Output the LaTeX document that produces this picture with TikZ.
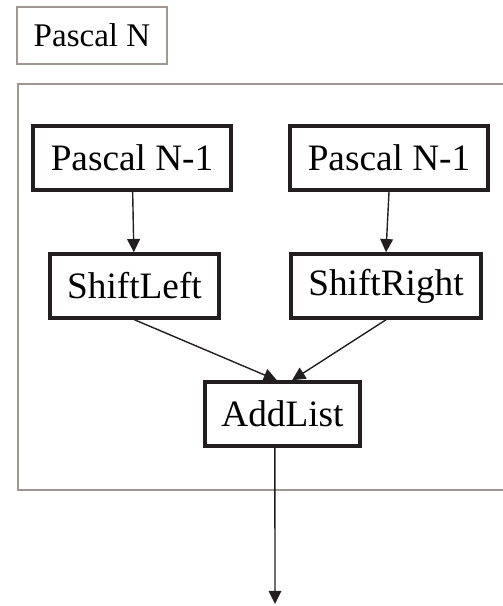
\documentclass[tikz,border=0pt]{standalone}
\usepackage{fontspec}
\setmainfont{Liberation Serif}
\usetikzlibrary{positioning, arrows.meta}

\definecolor{framegray}{RGB}{160,151,146}
\definecolor{boxblack}{RGB}{35,31,32}

\begin{document}
\begin{tikzpicture}[x=0.025cm, y=-0.025cm,
    block/.style={rectangle, draw=boxblack, line width=2.5pt, fill=white,
                  minimum height=1.6cm, inner sep=0pt, font=\fontsize{26.5}{30}\selectfont},
    titlebox/.style={rectangle, draw=framegray, line width=1.5pt, minimum width=3.75cm,
                  minimum height=1.425cm, inner sep=0pt, font=\fontsize{23.5}{28}\selectfont},
    frame/.style={draw=framegray, line width=1.5pt},
    arrow/.style={-{Triangle[length=3.3mm, width=3.2mm]}, line width=1pt, draw=boxblack}
]
    \useasboundingbox (0,0) rectangle (502,606);

    % Title
    \node[titlebox] (title) at (92,35.5) {Pascal N};

    % Outer frame (open on the right)
    \draw[frame] (520,84) -- (18,84) -- (18,490) -- (520,490);

    % Recursive calls
    \node[block, minimum width=4.95cm] (prevL) at (132,158) {Pascal N-1};
    \node[block, minimum width=4.95cm] (prevR) at (389,158) {Pascal N-1};

    % Shifts
    \node[block, minimum width=4.225cm] (shiftL) at (134.5,286) {ShiftLeft};
    \node[block, minimum width=4.75cm] (shiftR) at (386,286) {ShiftRight};

    % Sum
    \node[block, minimum width=3.875cm] (add) at (282.5,414) {AddList};

    % Output end
    \coordinate (out) at (275,604);

    % Arrows
    \draw[arrow] (prevL) -- (shiftL);
    \draw[arrow] (prevR.south) -- (shiftR.north);
    \draw[arrow] (shiftL.south) -- ([xshift=-0.14cm]add.north);
    \draw[arrow] (shiftR.south) -- ([xshift=0.24cm]add.north);
    \draw[arrow] ([xshift=-0.19cm]add.south) -- (out);

\end{tikzpicture}
\end{document}
